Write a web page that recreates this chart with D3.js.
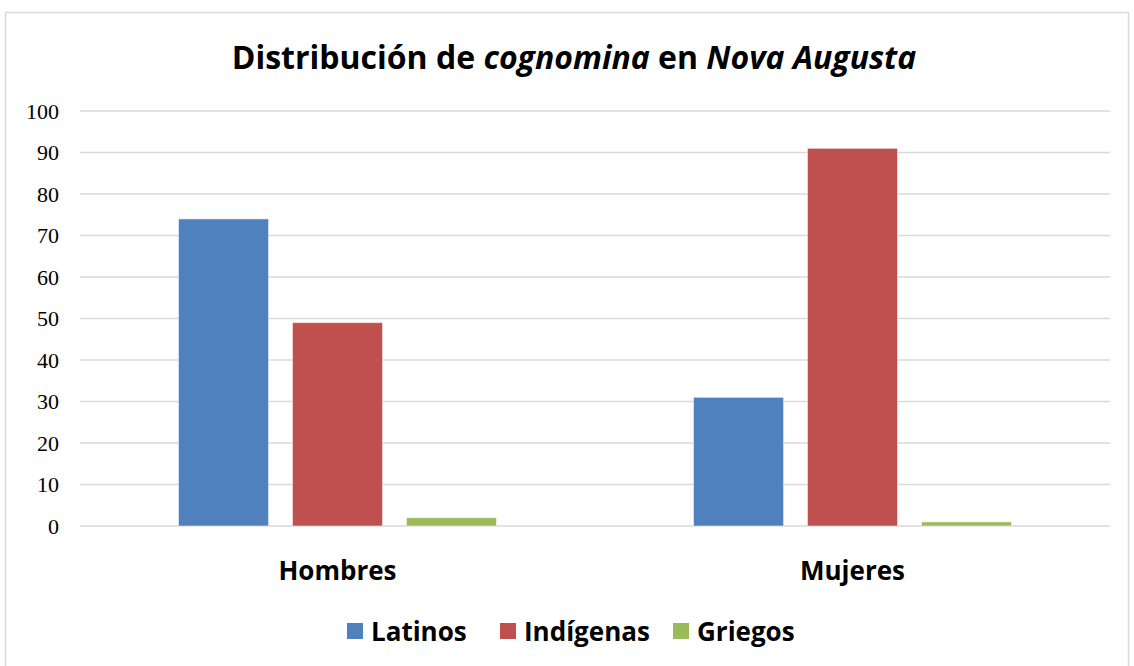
<!DOCTYPE html>
<html>
<head>
<meta charset="utf-8">
<script src="https://cdn.jsdelivr.net/npm/d3@7"></script>
<style>
  body { margin: 0; background: #fff; }
</style>
</head>
<body>
<div id="chart"></div>
<script>
// Data
const categories = ['Hombres', 'Mujeres'];
const seriesNames = ['Latinos', 'Indígenas', 'Griegos'];
const latinos = [74, 31];
const indigenas = [49, 91];
const griegos = [2, 1];
const yTicks = [0, 10, 20, 30, 40, 50, 60, 70, 80, 90, 100];
const colors = ['#4F81BD', '#C0504D', '#9BBB59'];

const seriesValues = [latinos, indigenas, griegos];
const width = 1134, height = 666;
const margin = { left: 80, right: 24, top: 111, bottom: 140 };

const svg = d3.select('#chart')
    .append('svg')
    .attr('width', width)
    .attr('height', height);

// Outer frame
svg.append('rect')
    .attr('x', 5.5).attr('y', 12.5)
    .attr('width', 1123).attr('height', 660)
    .attr('fill', 'none')
    .attr('stroke', '#d9d9d9')
    .attr('stroke-width', 1.5);

const x0 = d3.scaleBand()
    .domain(categories)
    .range([margin.left, width - margin.right]);

const x1 = d3.scaleBand()
    .domain(seriesNames)
    .range([0, 318])
    .paddingInner(0.21);

const y = d3.scaleLinear()
    .domain([0, 100])
    .range([526, 111]);

// Gridlines
svg.append('g')
    .selectAll('line')
    .data(yTicks)
    .join('line')
    .attr('x1', margin.left)
    .attr('x2', width - margin.right)
    .attr('y1', d => y(d))
    .attr('y2', d => y(d))
    .attr('stroke', '#d9d9d9')
    .attr('stroke-width', 1.5);

// Y labels
svg.append('g')
    .selectAll('text')
    .data(yTicks)
    .join('text')
    .attr('x', 59)
    .attr('y', d => y(d))
    .attr('dy', '0.35em')
    .attr('text-anchor', 'end')
    .style('font-family', '"Liberation Serif", "Times New Roman", serif')
    .style('font-size', '22px')
    .attr('fill', '#000')
    .text(d => d);

// Bars
const group = svg.append('g')
    .selectAll('g')
    .data(categories)
    .join('g')
    .attr('transform', d => `translate(${x0(d) + x0.bandwidth() / 2 - 159},0)`);

group.selectAll('rect')
    .data((c, i) => seriesNames.map((s, j) => ({ s, j, v: seriesValues[j][i] })))
    .join('rect')
    .attr('x', d => x1(d.s))
    .attr('y', d => y(d.v))
    .attr('width', x1.bandwidth())
    .attr('height', d => y(0) - y(d.v))
    .attr('fill', d => colors[d.j])
    .attr('stroke', '#fff')
    .attr('stroke-opacity', 0.5)
    .attr('stroke-width', 1);

// Category labels
svg.append('g')
    .selectAll('text')
    .data(categories)
    .join('text')
    .attr('x', d => x0(d) + x0.bandwidth() / 2)
    .attr('y', 580)
    .attr('text-anchor', 'middle')
    .style('font-family', '"Open Sans", sans-serif')
    .style('font-weight', '700')
    .style('font-size', '26px')
    .text(d => d);

// Title
const title = svg.append('text')
    .attr('x', 574)
    .attr('y', 69)
    .attr('text-anchor', 'middle')
    .style('font-family', '"Open Sans", sans-serif')
    .style('font-weight', '700')
    .style('font-size', '32px');
title.append('tspan').text('Distribución de ');
title.append('tspan').style('font-style', 'italic').text('cognomina');
title.append('tspan').text(' en ');
title.append('tspan').style('font-style', 'italic').text('Nova Augusta');

// Legend
const legendX = [347, 500, 673];
const legend = svg.append('g')
    .selectAll('g')
    .data(seriesNames)
    .join('g')
    .attr('transform', (d, i) => `translate(${legendX[i]},623)`);

legend.append('rect')
    .attr('width', 16)
    .attr('height', 16)
    .attr('fill', (d, i) => colors[i]);

legend.append('text')
    .attr('x', 24)
    .attr('y', 18)
    .style('font-family', '"Open Sans", sans-serif')
    .style('font-weight', '700')
    .style('font-size', '26px')
    .text(d => d);
</script>
</body>
</html>
